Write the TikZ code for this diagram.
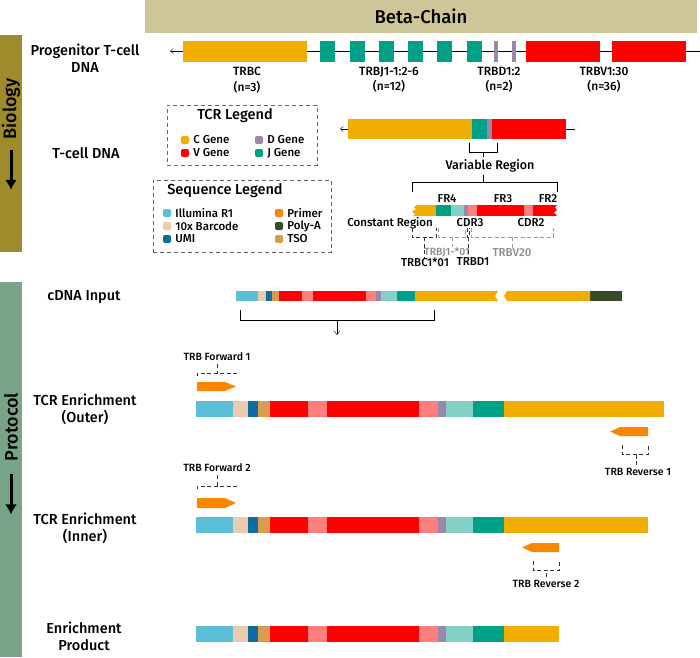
\documentclass[tikz,border=0pt]{standalone}
\usepackage{fontspec}
\setmainfont{Fira Sans Medium}
\usetikzlibrary{positioning,calc,arrows.meta}
\definecolor{CGene}{HTML}{F2AE00}
\definecolor{VGene}{HTML}{FF0000}
\definecolor{VLight}{HTML}{FF7F7F}
\definecolor{DGene}{HTML}{9A88A8}
\definecolor{JGene}{HTML}{00A087}
\definecolor{JLight}{HTML}{84D0C4}
\definecolor{Illumina}{HTML}{5BBFD7}
\definecolor{Barcode}{HTML}{EBCAAE}
\definecolor{UMI}{HTML}{0B6E9C}
\definecolor{TSO}{HTML}{D79C4F}
\definecolor{Primer}{HTML}{FB8600}
\definecolor{PolyA}{HTML}{384A26}
\definecolor{BioBar}{HTML}{9E8B2C}
\definecolor{ProtBar}{HTML}{78A48A}
\definecolor{Banner}{HTML}{CDC698}
\newcommand{\sz}[1]{\fontsize{#1}{#1}\selectfont}

\begin{document}
\begin{tikzpicture}[x=1pt, y=-1pt,
		every node/.style={inner sep=0pt, font=\sz{11.5}},
		rowlabel/.style={align=center, font=\fontsize{14.5}{17}\selectfont},
		side/.style={rotate=90, font=\sz{18}},
		sidearrow/.style={-{Latex[length=10pt,width=12pt]}, line width=3pt},
		gene/.style={minimum height=21pt, minimum width=15pt, anchor=west},
		genelab/.style={align=center, font=\fontsize{12}{15.5}\selectfont},
		key/.style={minimum size=8pt, rounded corners=2pt},
		legbox/.style={draw=black!60, line width=0.8pt, dash pattern=on 4pt off 3pt},
		brk/.style={line width=0.9pt},
		dkdash/.style={black!80, line width=0.9pt, dash pattern=on 4pt off 2.5pt},
		gydash/.style={black!40, line width=0.9pt, dash pattern=on 4pt off 2.5pt},
		small/.style={font=\sz{10.5}}
		]
		\useasboundingbox (0,0) rectangle (700,657);

		% side bars and banner
		\fill[BioBar] (0,35) rectangle (22,252);
		\fill[ProtBar] (0,282) rectangle (22,657);
		\fill[Banner] (145,0) rectangle (697,33);
		\node[font=\sz{18.5}] (title) at (421,16) {Beta-Chain};
		\node[side] (bio) at (11,109) {Biology};
		\node[side] (prot) at (11,427) {Protocol};
		\draw[sidearrow] (bio.west) ++(0,10) -- ++(0,40);
		\draw[sidearrow] (prot.west) ++(0,13) -- ++(0,40);

		% row labels
		\node[rowlabel] (prog) at (85,58) {Progenitor T-cell\\DNA};
		\node[rowlabel] (tcell) at (86,153) {T-cell DNA};
		\node[rowlabel] (cdna) at (84,297) {cDNA Input};
		\node[rowlabel] (outer) at (85,409) {TCR Enrichment\\(Outer)};
		\node[rowlabel] (inner) at (85,528) {TCR Enrichment\\(Inner)};
		\node[rowlabel] (prod) at (84,636) {Enrichment\\Product};

		% progenitor DNA
		\coordinate (pstart) at (170,51);
		\coordinate (pend) at (700,51);
		\draw[-{Straight Barb[length=3pt,width=5pt]}] (pend) -- (pstart);
		\node[gene, fill=CGene, minimum width=124pt] (C) at (183,51) {};
		\foreach \x [count=\i] in {320,350,379,408,437,467}
			\node[gene, fill=JGene] (J\i) at (\x,51) {};
		\foreach \x [count=\i] in {494,512}
			\node[gene, fill=DGene, minimum width=4pt] (D\i) at (\x,51) {};
		\node[gene, fill=VGene, minimum width=74pt] (V1) at (526,51) {};
		\node[gene, fill=VGene, minimum width=74pt] (V2) at (612,51) {};
		\node[genelab] (Clab) at (247,80) {TRBC\\(n=3)};
		\node[genelab] (Jlab) at (389,80) {TRBJ1-1:2-6\\(n=12)};
		\node[genelab] (Dlab) at (499,80) {TRBD1:2\\(n=2)};
		\node[genelab] (Vlab) at (604,80) {TRBV1:30\\(n=36)};

		% legends
		\node[legbox, minimum width=150pt, minimum height=60pt] (tcrbox) at (242,135) {};
		\node[font=\sz{14.5}] (tcrtitle) at (235,116) {TCR Legend};
		\node[key, fill=CGene] (kC) at (185,140) {};
		\node[key, fill=VGene] (kV) at (185,153) {};
		\node[key, fill=DGene] (kD) at (259,140) {};
		\node[key, fill=JGene] (kJ) at (259,153) {};
		\node[right=4pt of kC] {C Gene};
		\node[right=4pt of kV] {V Gene};
		\node[right=4pt of kD] {D Gene};
		\node[right=4pt of kJ] {J Gene};

		\node[legbox, minimum width=178pt, minimum height=72pt] (seqbox) at (242,216) {};
		\node[font=\sz{14.5}] (seqtitle) at (225,191) {Sequence Legend};
		\node[key, fill=Illumina] (kI) at (167,213) {};
		\node[key, fill=Barcode] (kB) at (167,226) {};
		\node[key, fill=UMI] (kU) at (167,239) {};
		\node[key, fill=Primer] (kP) at (279,213) {};
		\node[key, fill=PolyA] (kA) at (279,226) {};
		\node[key, fill=TSO] (kT) at (279,239) {};
		\node[right=4pt of kI] {Illumina R1};
		\node[right=4pt of kB] {10x Barcode};
		\node[right=4pt of kU] {UMI};
		\node[right=4pt of kP] {Primer};
		\node[right=4pt of kA] {Poly-A};
		\node[right=4pt of kT] {TSO};

		% T-cell DNA
		\coordinate (tstart) at (340,129);
		\coordinate (tend) at (575,129);
		\draw[-{Straight Barb[length=3pt,width=5pt]}] (tend) -- (tstart);
		\foreach \a/\b/\c in {348/472/CGene, 472/487/JGene, 487/492/DGene, 492/566/VGene}
			\fill[\c] (\a,119) rectangle (\b,139);
		\coordinate (vtop) at (483,152);
		\coordinate (vbot) at (483,182);
		\draw[brk] (469,143) -- (469,152) -- (497,152) -- (497,143);
		\node[font=\sz{12.5}] (varreg) at (490,166) {Variable Region};
		\draw[brk, shorten >=2pt] (vtop) -- (vtop |- varreg.north);
		\draw[brk, shorten <=2pt] (vbot |- varreg.south) -- (vbot);
		\draw[brk] (412,192) -- (412,182) -- (557,182) -- (557,192);

		% variable region close-up
		\foreach \a/\b/\c in {416/436/CGene, 436/451/JGene, 451/464/JLight, 464/468/DGene, 468/477/VLight, 477/524/VGene, 524/533/VLight, 533/553/VGene}
			\fill[\c] (\a,205) rectangle (\b,216);
		\fill[CGene] (417,205) -- (414,207) -- (416,209) -- (412,211.5) -- (415,214) -- (413,216) -- (417,216) -- cycle;
		\fill[VGene] (552,205) -- (557,205) -- (555,207.5) -- (557,210) -- (554,212.5) -- (557,216) -- (552,216) -- cycle;
		\node (fr4) at (447,199) {FR4};
		\node (fr3) at (503,199) {FR3};
		\node (fr2) at (548,199) {FR2};
		\node[anchor=east] (constreg) at (433,223) {Constant Region};
		\node (cdr3) at (470,223) {CDR3};
		\node (cdr2) at (531,223) {CDR2};
		\draw[dkdash] (412,228) -- (412,237) -- (436,237) -- (436,228);
		\draw[gydash] (438,228) -- (438,237) -- (465,237) -- (465,228);
		\draw[dkdash] (467,228) -- (467,237) -- (469,237) -- (469,228);
		\draw[gydash] (471,228) -- (471,237) -- (553,237) -- (553,228);
		\node (trbc1) at (425,262) {TRBC1*01};
		\node[small, black!45] (trbj1) at (447,252) {TRBJ1-*01};
		\node (trbd1) at (473,262) {TRBD1};
		\node[black!45] (trbv20) at (512,253) {TRBV20};
		\coordinate (sC) at (424,237);
		\coordinate (sJ) at (452,237);
		\coordinate (sD) at (468,237);
		\coordinate (sV) at (512,237);
		\draw[dkdash] (sC) -- (sC |- trbc1.north);
		\draw[gydash] (sJ) -- (sJ |- trbj1.north);
		\draw[dkdash] (sD) -- (sD |- trbd1.north);
		\draw[gydash] (sV) -- (sV |- trbv20.north);

		% cDNA input
		\foreach \a/\b/\c in {236/258/Illumina, 258/266/Barcode, 266/272/UMI, 272/279/TSO, 279/302/VGene, 302/313/VLight, 313/366/VGene, 366/376/VLight, 376/381/DGene, 381/397/JLight, 397/415/JGene, 590/622/PolyA}
			\fill[\c] (\a,291) rectangle (\b,301);
		\fill[CGene] (415,291) -- (498,291) -- (495,296) -- (498,301) -- (415,301) -- cycle;
		\fill[CGene] (507,291) -- (590,291) -- (590,301) -- (507,301) -- (504,296) -- cycle;
		\coordinate (cbr) at (337,320);
		\coordinate (ctip) at (337,335);
		\draw[brk] (240,310) -- (240,320) -- (434,320) -- (434,310);
		\draw[-{Straight Barb[length=4pt,width=6pt]}] (cbr) -- (ctip);

		% enrichment bars
		\foreach \y/\e in {401/664, 517/648, 626/559} {
			\foreach \a/\b/\c in {196/233/Illumina, 233/248/Barcode, 248/258/UMI, 258/270/TSO, 270/308/VGene, 308/327/VLight, 327/419/VGene, 419/438/VLight, 438/446/DGene, 446/473/JLight, 473/504/JGene}
				\fill[\c] (\a,\y) rectangle (\b,\y+16);
			\fill[CGene] (504,\y) rectangle (\e,\y+16);
		}

		% primers
		\fill[Primer] (197,382) -- (225,382) -- (236,386.5) -- (225,391) -- (197,391) -- cycle;
		\fill[Primer] (197,498) -- (225,498) -- (236,503) -- (225,508) -- (197,508) -- cycle;
		\fill[Primer] (648,427) -- (620,427) -- (610,431.5) -- (620,436) -- (648,436) -- cycle;
		\fill[Primer] (559,543) -- (532,543) -- (522,547.5) -- (532,552) -- (559,552) -- cycle;
		\node[small] (fwd1) at (217,357) {TRB Forward 1};
		\node[small] (fwd2) at (217,468) {TRB Forward 2};
		\node[small] (rev1) at (638,472) {TRB Reverse 1};
		\node[small] (rev2) at (546,584) {TRB Reverse 2};
		\coordinate (bF1) at (217,373);
		\coordinate (bF2) at (217,486);
		\coordinate (bR1) at (636,454);
		\coordinate (bR2) at (546,570);
		\draw[dkdash] (197,376) -- (197,373) -- (236,373) -- (236,376);
		\draw[dkdash] (197,489) -- (197,486) -- (236,486) -- (236,489);
		\draw[dkdash] (622,445) -- (622,454) -- (648,454) -- (648,445);
		\draw[dkdash] (533,561) -- (533,570) -- (559,570) -- (559,561);
		\draw[dkdash, shorten <=3pt] (bF1 |- fwd1.south) -- (bF1);
		\draw[dkdash, shorten <=3pt] (bF2 |- fwd2.south) -- (bF2);
		\draw[dkdash, shorten <=3pt] (bR1 |- rev1.north) -- (bR1);
		\draw[dkdash, shorten <=3pt] (bR2 |- rev2.north) -- (bR2);
	\end{tikzpicture}
\end{document}
